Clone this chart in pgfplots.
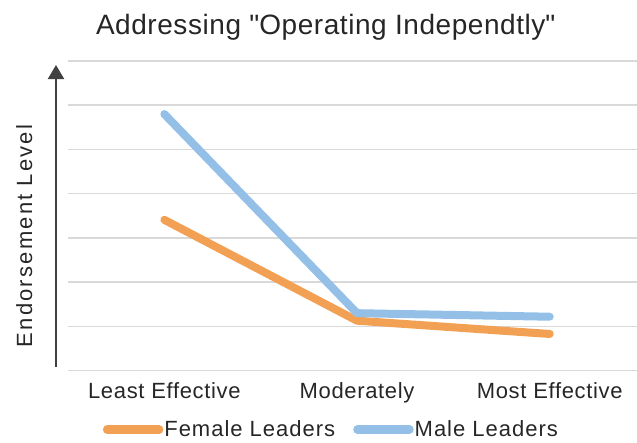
\documentclass[border=0pt]{standalone}
\usepackage{fontspec}
\setmainfont{Liberation Sans}
\usepackage{pgfplots}
\pgfplotsset{compat=1.18}
\usetikzlibrary{arrows.meta}
\definecolor{fem}{RGB}{242,161,84}
\definecolor{mal}{RGB}{148,192,232}
\definecolor{gridc}{RGB}{217,217,217}
\definecolor{txt}{RGB}{38,38,38}
\definecolor{arr}{RGB}{64,64,64}
\begin{document}
\begin{tikzpicture}[x=1pt,y=1pt]
\path[use as bounding box] (0,0) rectangle (637,442);
\begin{axis}[
  at={(68pt,71.3pt)}, anchor=south west,
  width=569pt, height=309.7pt, scale only axis,
  xmin=-0.5, xmax=2.453, ymin=0, ymax=7,
  clip=false,
  axis line style={draw=none},
  tick style={draw=none},
  ytick={0,1,...,7}, yticklabels={},
  ymajorgrids, grid style={gridc, line width=1.5pt},
  xtick={0,1,2},
  xticklabels={Least Effective, Moderately, Most Effective},
  x tick label style={font=\fontsize{22}{26}\selectfont\addfontfeature{LetterSpace=3}, text=txt, yshift=-8pt},
  title={Addressing \textquotedbl Operating Independtly\textquotedbl},
  title style={at={(axis description cs:0.453,1.084)}, anchor=base, yshift=-6pt, font=\fontsize{28}{32}\selectfont\addfontfeature{LetterSpace=2}, text=txt},
  ylabel={Endorsement Level},
  ylabel style={at={(axis description cs:-0.0768,0.435)}, anchor=center, font=\fontsize{22}{26}\selectfont\addfontfeature{LetterSpace=10}, text=txt},
  legend columns=2,
  legend style={at={(axis description cs:0.462,-0.19)}, anchor=center, draw=none, fill=none,
    font=\fontsize{22}{26}\selectfont\addfontfeature{LetterSpace=4.5}, text=txt,
    /tikz/every even column/.append style={column sep=17pt},
    nodes={inner xsep=1pt}},
  legend image code/.code={\draw[#1, line width=8.5pt, line cap=round] (0pt,0pt) -- (52pt,0pt);},
]
\addplot[fem, line width=8pt, line cap=round, line join=round] coordinates {(0,3.41) (1,1.13) (2,0.83)};
\addlegendentry{Female Leaders}
\addplot[mal, line width=8pt, line cap=round, line join=round] coordinates {(0,5.80) (1,1.30) (2,1.22)};
\addlegendentry{Male Leaders}
\draw[arr, line width=2pt, -{Triangle[length=14pt, width=16pt]}] (axis description cs:-0.0211,0.012) -- (axis description cs:-0.0211,0.987);
\end{axis}
\end{tikzpicture}
\end{document}
